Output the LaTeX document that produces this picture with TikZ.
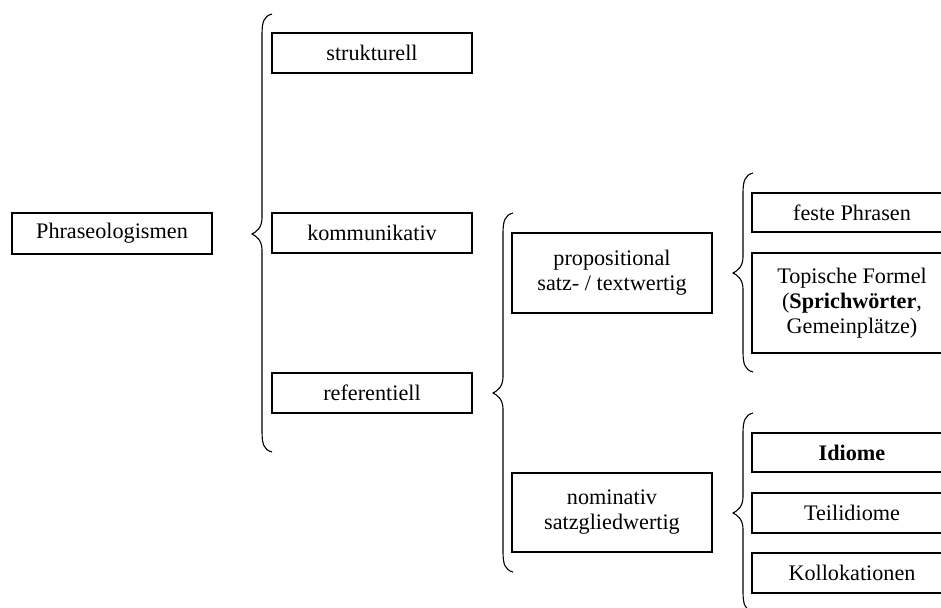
\documentclass[tikz,border=0pt]{standalone}
\usepackage{fontspec}
\setmainfont{Liberation Serif}
\begin{document}
\begin{tikzpicture}[x=1pt,y=-1pt,
  box/.style={draw,line width=1.1pt,minimum width=200pt,inner sep=0pt,align=center,
    font=\fontsize{22.2}{25}\selectfont},
  bracepath/.style={draw,line width=1.1pt}]
\clip (0,0) rectangle (941,607);

% curly brace: end x, spine x, tip x, top y, tip y, bottom y
\newcommand\curlybrace[6]{%
  \draw[bracepath] (#1,#4) .. controls (#2+2,#4+2) and (#2,#4+8) .. (#2,#4+20)
    -- (#2,#5-16) .. controls (#2,#5-6) and (#3+4,#5-2) .. (#3,#5)
    .. controls (#3+4,#5+2) and (#2,#5+6) .. (#2,#5+16)
    -- (#2,#6-20) .. controls (#2,#6-8) and (#2+2,#6-2) .. (#1,#6);}

% level 0
\node[box,minimum height=41pt] (phr) at (112,233.5) {Phraseologismen};

% level 1
\node[box,minimum height=40pt] (struk) at (372,53) {strukturell};
\node[box,minimum height=40pt] (komm) at (372,233) {kommunikativ};
\node[box,minimum height=40pt] (ref) at (372,393) {referentiell};

% level 2
\node[box,minimum height=80pt] (prop) at (612,273) {propositional\\satz- / textwertig};
\node[box,minimum height=79pt] (nom) at (612,512.5) {nominativ\\satzgliedwertig};

% level 3
\node[box,minimum height=39pt] (feste) at (852,212.5) {feste Phrasen};
\node[box,minimum height=100pt] (topo) at (852,303) {Topische Formel\\(\textbf{Sprichwörter},\\Gemeinplätze)};
\node[box,minimum height=39pt] (idiom) at (852,452.5) {\textbf{Idiome}};
\node[box,minimum height=40pt] (teil) at (852,513) {Teilidiome};
\node[box,minimum height=40pt] (koll) at (852,573) {Kollokationen};

% braces grouping the subcategories
\curlybrace{272}{262}{252}{14}{234}{452}
\curlybrace{513}{503}{493}{213}{393}{572}
\curlybrace{753}{743}{733}{173}{273}{372}
\curlybrace{753}{743}{733}{413}{513}{612}
\end{tikzpicture}
\end{document}
